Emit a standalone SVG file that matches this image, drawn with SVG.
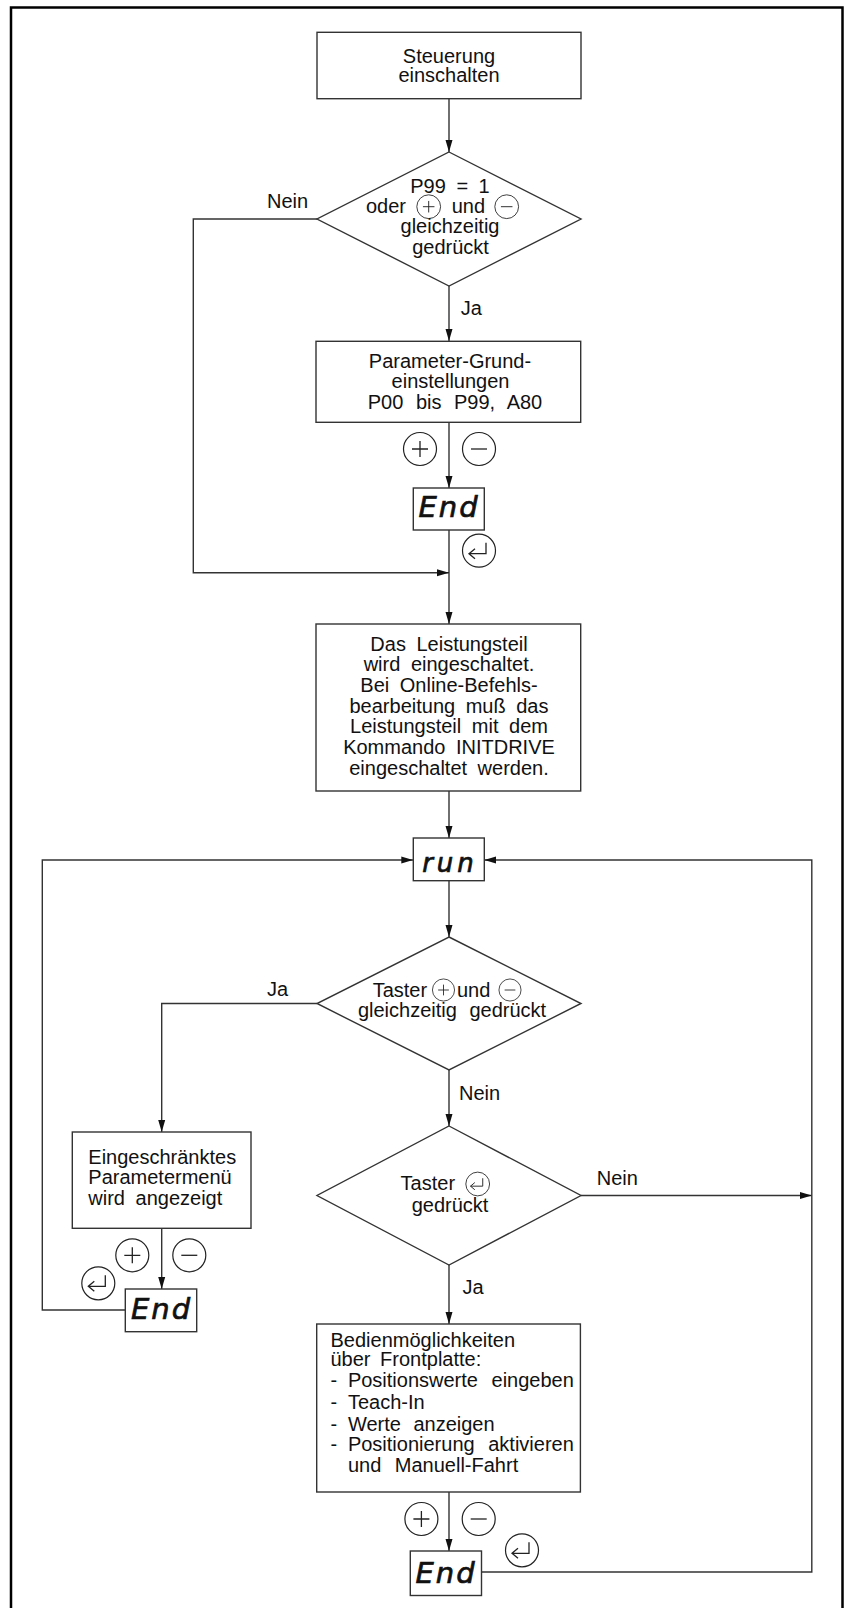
<svg xmlns="http://www.w3.org/2000/svg" xmlns:xlink="http://www.w3.org/1999/xlink" width="844" height="1608" viewBox="0 0 844 1608">
<style>
.box{fill:#fff;stroke:#333;stroke-width:1.4}
.ln{fill:none;stroke:#333;stroke-width:1.4}
.t{font-family:"Liberation Sans",Arial,sans-serif;font-size:20px;fill:#111;word-spacing:5px}
.c{text-anchor:middle}
.seg{font-family:"DejaVu Sans",sans-serif;font-weight:normal;font-style:oblique;font-size:29px;text-anchor:middle;fill:#111;stroke:#111;stroke-width:0.7}
.key{fill:#fff;stroke:#222;stroke-width:1.2}
.ks{fill:none;stroke:#222;stroke-width:1.3}
</style>
<defs>
<marker id="ah" markerUnits="userSpaceOnUse" markerWidth="12" markerHeight="8" refX="12" refY="4" orient="auto">
<path d="M0,0.5 L12,4 L0,7.5 z" fill="#111"/>
</marker>
<g id="kplus"><circle class="key" r="16.5"/><path class="ks" d="M-8,0 H8 M0,-8 V8"/></g>
<g id="kminus"><circle class="key" r="16.5"/><path class="ks" d="M-8,0 H8"/></g>
<g id="kenter"><circle class="key" r="16.5"/><path class="ks" d="M7,-8 V3 H-10 M-4,-2 L-10,3 L-4,8"/></g>
</defs>
<rect width="844" height="1608" fill="#fff"/>
<path d="M11,1608 V7.5 H842.5 V1608" fill="none" stroke="#000" stroke-width="2.5"/>

<g id="connectors">
<path class="ln" d="M449,99 V152" marker-end="url(#ah)"/>
<path class="ln" d="M449,286 V341" marker-end="url(#ah)"/>
<path class="ln" d="M449,422 V488" marker-end="url(#ah)"/>
<path class="ln" d="M449,530 V624" marker-end="url(#ah)"/>
<path class="ln" d="M317,219 H193.3 V572.7 H449" marker-end="url(#ah)"/>
<path class="ln" d="M449,791 V838" marker-end="url(#ah)"/>
<path class="ln" d="M449,881 V937" marker-end="url(#ah)"/>
<path class="ln" d="M317,1003.5 H161.7 V1132" marker-end="url(#ah)"/>
<path class="ln" d="M161.7,1228 V1289" marker-end="url(#ah)"/>
<path class="ln" d="M125.3,1310 H42.3 V860 H413.3" marker-end="url(#ah)"/>
<path class="ln" d="M449,1070 V1126" marker-end="url(#ah)"/>
<path class="ln" d="M581,1195.5 H811.8" marker-end="url(#ah)"/>
<path class="ln" d="M449,1265 V1324" marker-end="url(#ah)"/>
<path class="ln" d="M449,1492 V1551" marker-end="url(#ah)"/>
<path class="ln" d="M481.5,1572 H811.8 V860 H484.3" marker-end="url(#ah)"/>
<text class="t" x="267" y="208">Nein</text>
<text class="t" x="460.7" y="315">Ja</text>
<text class="t" x="267" y="995.7">Ja</text>
<text class="t" x="459" y="1100">Nein</text>
<text class="t" x="596.7" y="1185">Nein</text>
<text class="t" x="462.4" y="1294.3">Ja</text>
<use xlink:href="#kplus" x="420" y="449"/>
<use xlink:href="#kminus" x="479" y="449"/>
<use xlink:href="#kenter" x="479" y="550.7"/>
<use xlink:href="#kplus" x="132.3" y="1255.3"/>
<use xlink:href="#kminus" x="189.3" y="1255.3"/>
<use xlink:href="#kenter" x="98.3" y="1283.3"/>
<use xlink:href="#kplus" x="421.4" y="1519"/>
<use xlink:href="#kminus" x="478.7" y="1519"/>
<use xlink:href="#kenter" x="522" y="1550.3"/>
</g>

<g id="n-start">
<rect class="box" x="317" y="32.3" width="264" height="66.4"/>
<text class="t c" x="449" y="62.5">Steuerung</text>
<text class="t c" x="449" y="82">einschalten</text>
</g>

<g id="d-p99">
<polygon class="box" points="449,152 581,219 449,286 317,219"/>
<text class="t c" x="450" y="192.7">P99 = 1</text>
<text class="t" x="366" y="213.3">oder</text>
<use xlink:href="#kplus" transform="translate(428.7,206.7) scale(0.72)"/>
<text class="t" x="451.7" y="213.3">und</text>
<use xlink:href="#kminus" transform="translate(506.7,206.7) scale(0.72)"/>
<text class="t c" x="450" y="233.3">gleichzeitig</text>
<text class="t c" x="450.5" y="254">gedrückt</text>
</g>

<g id="n-param">
<rect class="box" x="316" y="341.3" width="264.7" height="81"/>
<text class="t c" x="450" y="368">Parameter-Grund-</text>
<text class="t c" x="450.5" y="388">einstellungen</text>
<text class="t c" x="455" y="409" style="word-spacing:7px">P00 bis P99, A80</text>
</g>

<g id="n-end1">
<rect class="box" x="413.3" y="488" width="71" height="42"/>
<text class="seg" x="449" y="517" letter-spacing="2">End</text>
</g>

<g id="n-leistung">
<rect class="box" x="316" y="624" width="264.7" height="167"/>
<text class="t c" x="449" y="650.7">Das Leistungsteil</text>
<text class="t c" x="449" y="671">wird eingeschaltet.</text>
<text class="t c" x="449" y="691.7">Bei Online-Befehls-</text>
<text class="t c" x="449" y="712.7">bearbeitung muß das</text>
<text class="t c" x="449" y="733.3">Leistungsteil mit dem</text>
<text class="t c" x="449" y="753.7">Kommando INITDRIVE</text>
<text class="t c" x="449" y="775">eingeschaltet werden.</text>
</g>

<g id="n-run">
<rect class="box" x="413.3" y="838" width="71" height="42.7"/>
<text class="seg" x="450" y="872" style="font-size:26px" letter-spacing="4">run</text>
</g>

<g id="d-taster-pm">
<polygon class="box" points="449,937 581,1003.5 449,1070 317,1003.5"/>
<text class="t" x="372.7" y="996.7">Taster</text>
<use xlink:href="#kplus" transform="translate(443.5,990) scale(0.67)"/>
<text class="t" x="457" y="996.7">und</text>
<use xlink:href="#kminus" transform="translate(510,990) scale(0.67)"/>
<text class="t c" x="452" y="1016.7" style="word-spacing:7px">gleichzeitig gedrückt</text>
</g>

<g id="n-menu">
<rect class="box" x="72.3" y="1132" width="178.7" height="96.3"/>
<text class="t" x="88.3" y="1164.3">Eingeschränktes</text>
<text class="t" x="88.3" y="1184.3">Parametermenü</text>
<text class="t" x="88.3" y="1205">wird angezeigt</text>
</g>

<g id="n-end2">
<rect class="box" x="125.3" y="1289" width="71.4" height="42.7"/>
<text class="seg" x="161.5" y="1319" letter-spacing="2">End</text>
</g>

<g id="d-taster-enter">
<polygon class="box" points="449,1126 581,1195.5 449,1265 317,1195.5"/>
<text class="t" x="400.6" y="1190">Taster</text>
<use xlink:href="#kenter" transform="translate(477.7,1184) scale(0.72)"/>
<text class="t c" x="450" y="1211.7">gedrückt</text>
</g>

<g id="n-bedien">
<rect class="box" x="316.7" y="1324" width="263.7" height="168"/>
<text class="t" x="330.5" y="1346.7">Bedienmöglichkeiten</text>
<text class="t" x="330.5" y="1366.4" style="word-spacing:4px">über Frontplatte:</text>
<text class="t" y="1387.3" style="word-spacing:8px"><tspan x="330.5">-</tspan><tspan x="347.9">Positionswerte eingeben</tspan></text>
<text class="t" y="1409"><tspan x="330.5">-</tspan><tspan x="347.9">Teach-In</tspan></text>
<text class="t" y="1430.6" style="word-spacing:7px"><tspan x="330.5">-</tspan><tspan x="347.9">Werte anzeigen</tspan></text>
<text class="t" y="1451.4" style="word-spacing:8px"><tspan x="330.5">-</tspan><tspan x="347.9">Positionierung aktivieren</tspan></text>
<text class="t" x="347.9" y="1472.3" style="word-spacing:8px">und Manuell-Fahrt</text>
</g>

<g id="n-end3">
<rect class="box" x="410.3" y="1551" width="71.2" height="44.5"/>
<text class="seg" x="446" y="1583" letter-spacing="2">End</text>
</g>
</svg>
